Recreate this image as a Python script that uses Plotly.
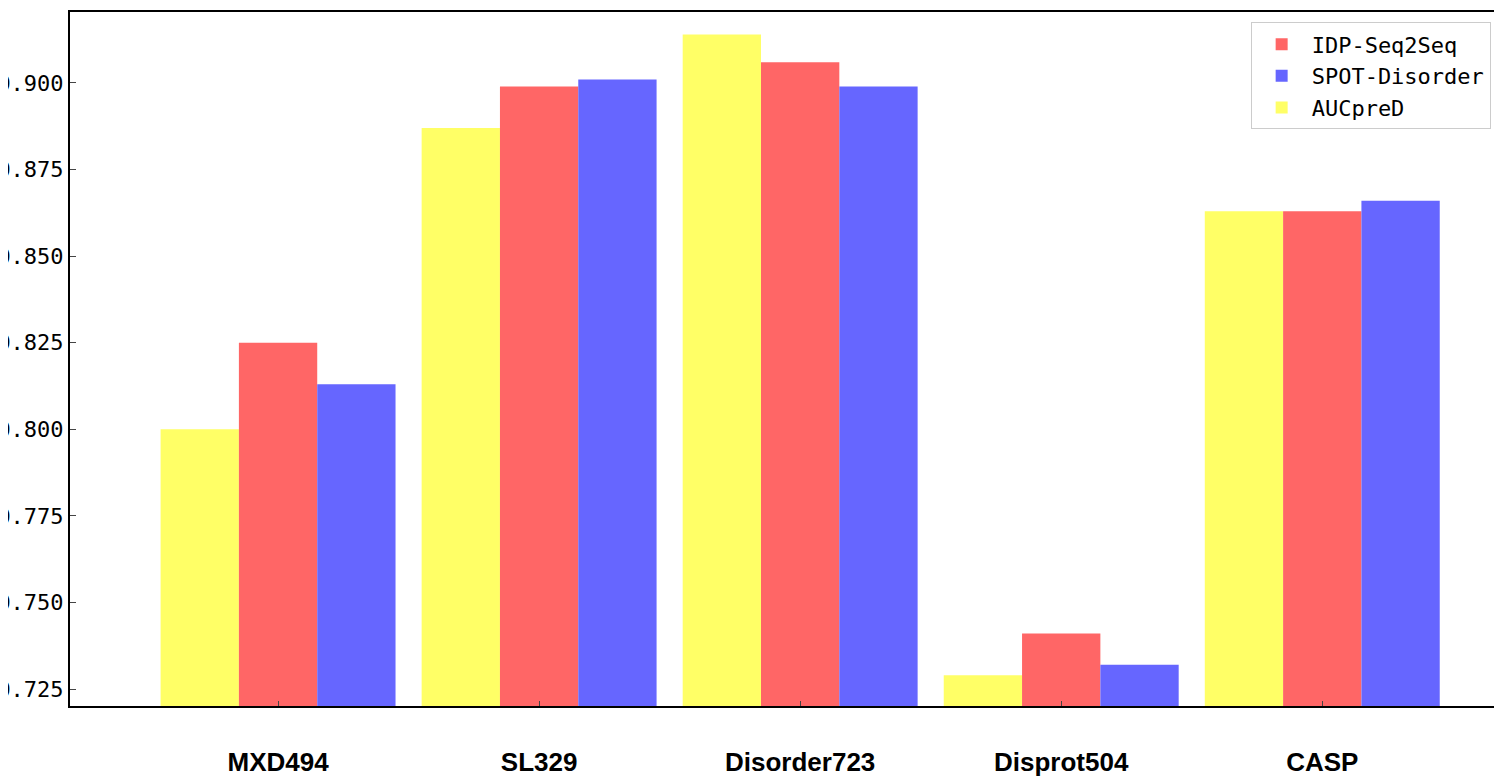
import plotly.graph_objects as go

# data
datasets = ["MXD494", "SL329", "Disorder723", "Disprot504", "CASP"]
aucpred = [0.800, 0.887, 0.914, 0.729, 0.863]
idp_seq2seq = [0.825, 0.899, 0.906, 0.741, 0.863]
spot_disorder = [0.813, 0.901, 0.899, 0.732, 0.866]
y_ticks = [0.725, 0.750, 0.775, 0.800, 0.825, 0.850, 0.875, 0.900]

x = list(range(len(datasets)))

fig = go.Figure()
fig.add_trace(go.Bar(x=x, y=aucpred, name="AUCpreD", marker_color="#ffff66", legendrank=3))
fig.add_trace(go.Bar(x=x, y=idp_seq2seq, name="IDP-Seq2Seq", marker_color="#ff6666", legendrank=1))
fig.add_trace(go.Bar(x=x, y=spot_disorder, name="SPOT-Disorder", marker_color="#6666ff", legendrank=2))

fig.update_traces(marker_line_width=0, base=0)

fig.update_layout(
    width=1502, height=781,
    barmode="group", bargap=0.1, bargroupgap=0,
    plot_bgcolor="white", paper_bgcolor="white",
    margin=dict(l=62, r=5, t=4, b=83),
    font=dict(family="DejaVu Sans Mono", color="black"),
    legend=dict(x=0.99, y=0.985, xanchor="right", yanchor="top",
                bordercolor="#cccccc", borderwidth=1, bgcolor="white",
                font=dict(size=22), itemwidth=50, tracegroupgap=4),
)
fig.update_xaxes(
    range=[-0.797, 4.70], tickvals=x, ticktext=datasets, automargin=False,
    tickfont=dict(family="Liberation Sans", size=26, color="black", weight="bold"),
    ticks="inside", ticklen=5, ticklabelstandoff=32,
    showline=True, linecolor="black", linewidth=2, mirror=True, showgrid=False,
)
fig.update_yaxes(
    range=[0.7201, 0.9205], tickvals=y_ticks, tickformat=".3f", automargin=False,
    tickfont=dict(size=22),
    ticks="inside", ticklen=6,
    showline=True, linecolor="black", linewidth=2, mirror=True, showgrid=False,
)

fig.write_html("out.html")
